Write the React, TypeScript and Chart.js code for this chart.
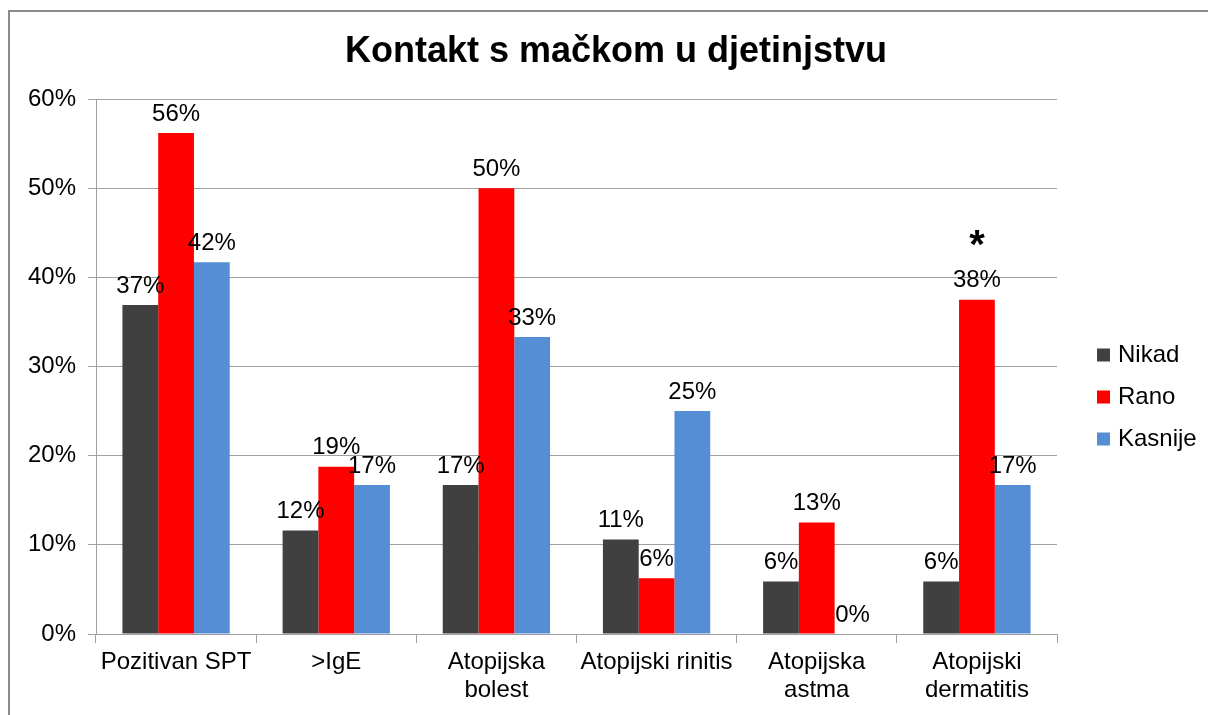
import React, { useEffect, useRef } from "react";
import { Chart, registerables } from "chart.js";

Chart.register(...registerables);

const categories: (string | string[])[] = [
  "Pozitivan SPT",
  ">IgE",
  ["Atopijska", "bolest"],
  "Atopijski rinitis",
  ["Atopijska", "astma"],
  ["Atopijski", "dermatitis"],
];
const seriesNames = ["Nikad", "Rano", "Kasnije"];
const nikad = [36.9, 11.6, 16.7, 10.6, 5.9, 5.9];
const rano = [56.2, 18.75, 50, 6.25, 12.5, 37.5];
const kasnije = [41.7, 16.7, 33.3, 25, 0, 16.7];
const ranoMarks = ["", "", "", "", "", "*"];
const colors = ["#404040", "#ff0000", "#558ed5"];
const yTicks = [0, 10, 20, 30, 40, 50, 60];
const title = "Kontakt s mačkom u djetinjstvu";

const FONT = "'Liberation Sans', Arial, sans-serif";

const labelsPlugin = {
  id: "valueLabels",
  afterDatasetsDraw(chart: any) {
    const ctx = chart.ctx;
    ctx.save();
    ctx.font = `24px ${FONT}`;
    ctx.fillStyle = "#000";
    ctx.textAlign = "center";
    ctx.textBaseline = "middle";
    chart.data.datasets.forEach((ds: any, di: number) => {
      const meta = chart.getDatasetMeta(di);
      meta.data.forEach((el: any, i: number) => {
        const v = ds.data[i];
        ctx.fillText(`${Math.round(v)}%`, el.x, el.y - 19);
      });
    });
    const meta = chart.getDatasetMeta(1);
    ctx.font = `bold 40px ${FONT}`;
    meta.data.forEach((el: any, i: number) => {
      if (ranoMarks[i]) ctx.fillText(ranoMarks[i], el.x, el.y - 53);
    });
    ctx.restore();
  },
};

const titleLegendPlugin = {
  id: "titleLegend",
  afterDraw(chart: any) {
    const ctx = chart.ctx;
    const area = chart.chartArea;
    ctx.save();
    ctx.fillStyle = "#000";
    ctx.textAlign = "center";
    ctx.textBaseline = "middle";
    ctx.font = `bold 36px ${FONT}`;
    ctx.fillText(title, chart.width / 2 + 6, 40);

    const cy = (area.top + area.bottom) / 2 + 30;
    ctx.font = `24px ${FONT}`;
    ctx.textAlign = "left";
    chart.data.datasets.forEach((ds: any, i: number) => {
      const y = cy + (i - 1) * 42;
      ctx.fillStyle = ds.backgroundColor;
      ctx.fillRect(area.right + 40, y - 6, 13, 13);
      ctx.fillStyle = "#000";
      ctx.fillText(ds.label, area.right + 61, y + 1);
    });
    ctx.restore();
  },
};

export default function App() {
  const ref = useRef<HTMLCanvasElement | null>(null);
  useEffect(() => {
    if (!ref.current) return;
    const chart = new Chart(ref.current, {
      type: "bar",
      data: {
        labels: categories as any,
        datasets: [nikad, rano, kasnije].map((d, i) => ({
          label: seriesNames[i],
          data: d,
          backgroundColor: colors[i],
          borderWidth: 0,
          barPercentage: 1,
          categoryPercentage: 0.67,
        })),
      },
      options: {
        animation: false,
        responsive: false,
        maintainAspectRatio: false,
        layout: { padding: { left: 0, right: 153, top: 87, bottom: 0 } },
        plugins: {
          legend: { display: false },
          tooltip: { enabled: false },
          title: { display: false },
        },
        scales: {
          x: {
            grid: {
              offset: true,
              drawOnChartArea: false,
              drawTicks: true,
              tickLength: 9,
              color: "#a0a0a0",
            },
            border: { color: "#a0a0a0", width: 1 },
            ticks: {
              color: "#000",
              font: { family: FONT, size: 24, lineHeight: 1.17 },
              padding: 5,
              maxRotation: 0,
              autoSkip: false,
            },
            afterFit(scale: any) {
              scale.height = 81;
            },
          },
          y: {
            min: 0,
            max: 60,
            afterBuildTicks(scale: any) {
              scale.ticks = yTicks.map((v) => ({ value: v }));
            },
            grid: { color: "#a0a0a0", tickLength: 8 },
            border: { color: "#a0a0a0", width: 1 },
            ticks: {
              color: "#000",
              font: { family: FONT, size: 24 },
              padding: 12,
              callback: (v: any) => `${v}%`,
            },
            afterFit(scale: any) {
              scale.width = 86;
            },
          },
        },
      },
      plugins: [labelsPlugin, titleLegendPlugin],
    } as any);
    return () => chart.destroy();
  }, []);

  return (
    <div
      style={{
        position: "fixed",
        left: 8,
        top: 10,
        width: 1200,
        height: 705,
        overflow: "hidden",
      }}
    >
      <div
        style={{
          width: 1210,
          height: 720,
          border: "2px solid #8c8c8c",
          background: "#fff",
        }}
      >
        <canvas ref={ref} width={1200} height={703} style={{ display: "block" }} />
      </div>
    </div>
  );
}
